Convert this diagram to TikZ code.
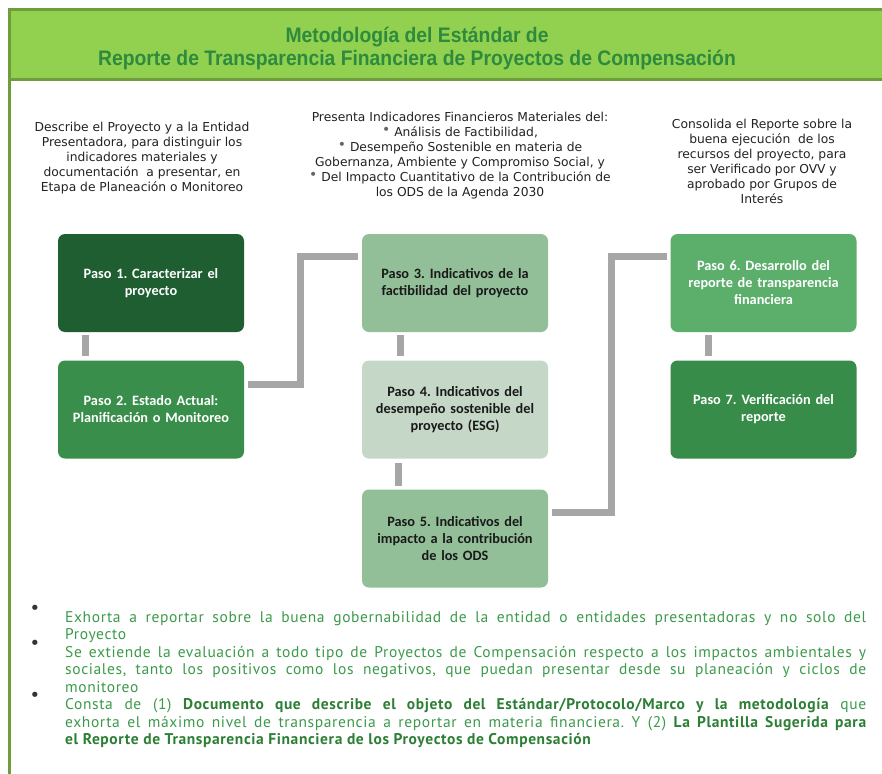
\documentclass[tikz,border=0pt]{standalone}
\usepackage{fontspec}
\setmainfont{Liberation Sans}
\newfontfamily\titlefont[FakeStretch=0.92]{Liberation Sans}
\newfontfamily\descfont{DejaVu Sans}
\newfontfamily\boxfont{Carlito}
\newfontfamily\notefont[LetterSpace=4]{PT Sans}
\usetikzlibrary{calc}
\frenchspacing
\definecolor{hdrfill}{HTML}{92D050}
\definecolor{hdrline}{HTML}{6E9E3C}
\definecolor{titlegreen}{HTML}{2E8B3E}
\definecolor{cA}{HTML}{1E5E30}
\definecolor{cB}{HTML}{388E4A}
\definecolor{cC}{HTML}{93BF98}
\definecolor{cD}{HTML}{C5D8C8}
\definecolor{cE}{HTML}{5BAF6B}
\definecolor{cF}{HTML}{368C48}
\definecolor{conngray}{HTML}{A6A6A6}
\definecolor{desctext}{HTML}{222222}
\definecolor{notegreen}{HTML}{3C9A4A}
\definecolor{notebold}{HTML}{2C7F35}
\newcommand{\mbul}{\raisebox{2pt}{\color{black!60}\fontsize{14}{14}\selectfont\textbullet}\ }
\newcommand{\jline}[1]{\makebox[801pt][s]{#1}}
\tikzset{
  pasobox/.style={rectangle, rounded corners=7pt, minimum width=186pt, minimum height=98pt,
    inner sep=0pt, text width=178pt, align=center,
    font=\boxfont\bfseries\fontsize{14.3}{17}\selectfont},
  conn/.style={draw=conngray, line width=7pt, line cap=butt, line join=miter},
  desc/.style={align=center, inner sep=0pt, text=desctext,
    font=\descfont\fontsize{12.3}{15}\selectfont},
  noteline/.style={anchor=base west, inner sep=0pt, text=notegreen,
    font=\notefont\fontsize{15.5}{17.5}\selectfont},
  notebullet/.style={inner sep=0pt, text=black!80, font=\descfont\fontsize{18}{18}\selectfont}
}
\begin{document}
\begin{tikzpicture}[x=1pt,y=-1pt]
\useasboundingbox[fill=white] (0,0) rectangle (882,773);
% frame and header
\draw[hdrline, line width=3pt] (9,80) -- (9,776);
\draw[fill=hdrfill, draw=hdrline, line width=3pt] (9,10) rectangle (886,80);
\node[align=center, inner sep=0pt, text=titlegreen,
  font=\titlefont\bfseries\fontsize{21}{23}\selectfont] (title) at (417,48)
  {Metodología del Estándar de\\Reporte de Transparencia Financiera de Proyectos de Compensación};
% descriptions
\node[desc] (dleft) at (142,158) {Describe el Proyecto y a la Entidad\\Presentadora, para distinguir los\\indicadores materiales y\\documentación~ a presentar, en\\Etapa de Planeación o Monitoreo};
\node[desc] (dmid) at (460,156) {Presenta Indicadores Financieros Materiales del:\\\mbul Análisis de Factibilidad,\\\mbul Desempeño Sostenible en materia de\\Gobernanza, Ambiente y Compromiso Social, y\\\mbul Del Impacto Cuantitativo de la Contribución de\\los ODS de la Agenda 2030};
\node[desc] (dright) at (762,161.5) {Consolida el Reporte sobre la\\buena ejecución~ de los\\recursos del proyecto, para\\ser Verificado por OVV y\\aprobado por Grupos de\\Interés};
% boxes
\node[pasobox, fill=cA, text=white] (p1) at (151,283) {Paso 1. Caracterizar el\\proyecto};
\node[pasobox, fill=cB, text=white] (p2) at (151,409.5) {Paso 2. Estado Actual:\\Planificación o Monitoreo};
\node[pasobox, fill=cC, text=black!90] (p3) at (455,283) {Paso 3. Indicativos de la\\factibilidad del proyecto};
\node[pasobox, fill=cD, text=black!90] (p4) at (455,409.5) {Paso 4. Indicativos del\\desempeño sostenible del\\proyecto (ESG)};
\node[pasobox, fill=cC, text=black!90] (p5) at (455,538.5) {Paso 5. Indicativos del\\impacto a la contribución\\de los ODS};
\node[pasobox, fill=cE, text=white] (p6) at (763.5,283) {Paso 6. Desarrollo del\\reporte de transparencia\\financiera};
\node[pasobox, fill=cF, text=white] (p7) at (763.5,409.5) {Paso 7. Verificación del\\reporte};
% connectors
\draw[conn] ($(p1.south west)+(28,3)$) -- ($(p2.north west)+(28,-4)$);
\draw[conn] ($(p2.north east)+(4,24)$) -| ($(p3.north west)+(-61,23)$) -- ($(p3.north west)+(-4,23)$);
\draw[conn] ($(p3.south west)+(39,3)$) -- ($(p4.north west)+(39,-4)$);
\draw[conn] ($(p4.south west)+(37,4)$) -- ($(p5.north west)+(37,-3)$);
\draw[conn] ($(p5.north east)+(4,23)$) -| ($(p6.north west)+(-59,23)$) -- ($(p6.north west)+(-3,23)$);
\draw[conn] ($(p6.south west)+(38,3)$) -- ($(p7.north west)+(38,-4)$);
% notes
\node[notebullet] (b1) at (35,610) {•};
\node[notebullet] (b2) at (35,645) {•};
\node[notebullet] (b3) at (35,697) {•};
\node[noteline] (n1) at (65,622) {\jline{Exhorta a reportar sobre la buena gobernabilidad de la entidad o entidades presentadoras y no solo del}};
\node[noteline] (n2) at (65,639.5) {Proyecto};
\node[noteline] (n3) at (65,657) {\jline{Se extiende la evaluación a todo tipo de Proyectos de Compensación respecto a los impactos ambientales y}};
\node[noteline] (n4) at (65,674.5) {\jline{sociales, tanto los positivos como los negativos, que puedan presentar desde su planeación y ciclos de}};
\node[noteline] (n5) at (65,692) {monitoreo};
\node[noteline] (n6) at (65,709.5) {\jline{Consta de (1) {\bfseries\color{notebold}Documento que describe el objeto del Estándar/Protocolo/Marco y la metodología} que}};
\node[noteline] (n7) at (65,727) {\jline{exhorta el máximo nivel de transparencia a reportar en materia financiera. Y (2) {\bfseries\color{notebold}La Plantilla Sugerida para}}};
\node[noteline] (n8) at (65,744.5) {{\bfseries\color{notebold}el Reporte de Transparencia Financiera de los Proyectos de Compensación}};
\end{tikzpicture}
\end{document}
